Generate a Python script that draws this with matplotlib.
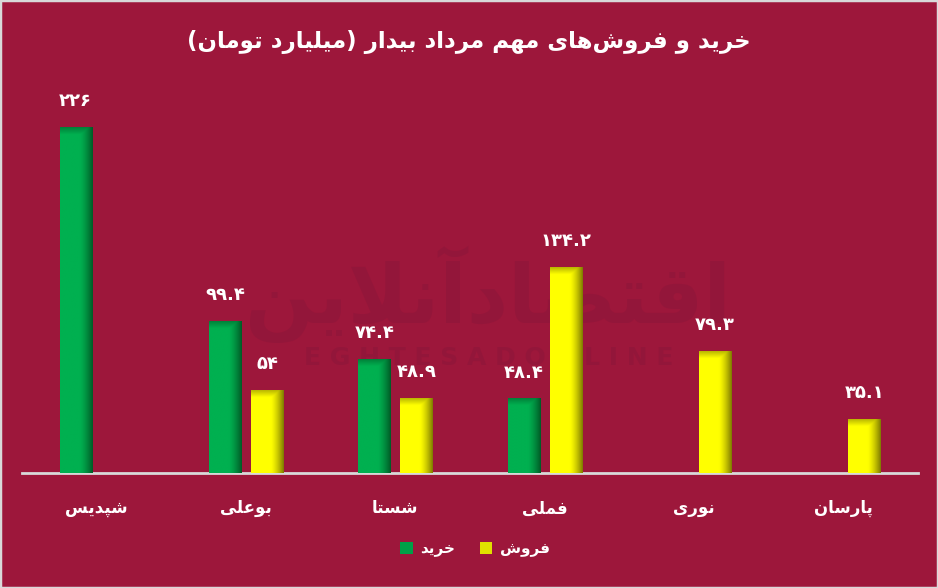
import numpy as np
import matplotlib
matplotlib.use("Agg")
import matplotlib.pyplot as plt
from matplotlib.patches import Patch
import matplotlib.colors as mcolors

# ---------------- data ----------------
categories = ["شپدیس", "بوعلی", "شستا", "فملی", "نوری", "پارسان"]
buy = [226, 99.4, 74.4, 48.4, None, None]          # خرید
sell = [None, 54, 48.9, 134.2, 79.3, 35.1]         # فروش
buy_labels = ["۲۲۶", "۹۹.۴", "۷۴.۴", "۴۸.۴", None, None]
sell_labels = [None, "۵۴", "۴۸.۹", "۱۳۴.۲", "۷۹.۳", "۳۵.۱"]
series_names = ["خرید", "فروش"]
title = "خرید و فروش\u200cهای مهم مرداد بیدار (میلیارد تومان)"
watermark_fa = "اقتصادآنلاین"
watermark_en = "E G H T E S A D O N L I N E"

# ---------------- minimal Persian shaping ----------------
F = {  # isolated, final, initial, medial
    'ا': ('\uFE8D', '\uFE8E', None, None),
    'آ': ('\uFE81', '\uFE82', None, None),
    'ب': ('\uFE8F', '\uFE90', '\uFE91', '\uFE92'),
    'پ': ('\uFB56', '\uFB57', '\uFB58', '\uFB59'),
    'ت': ('\uFE95', '\uFE96', '\uFE97', '\uFE98'),
    'خ': ('\uFEA5', '\uFEA6', '\uFEA7', '\uFEA8'),
    'د': ('\uFEA9', '\uFEAA', None, None),
    'ر': ('\uFEAD', '\uFEAE', None, None),
    'س': ('\uFEB1', '\uFEB2', '\uFEB3', '\uFEB4'),
    'ش': ('\uFEB5', '\uFEB6', '\uFEB7', '\uFEB8'),
    'ص': ('\uFEB9', '\uFEBA', '\uFEBB', '\uFEBC'),
    'ع': ('\uFEC9', '\uFECA', '\uFECB', '\uFECC'),
    'ف': ('\uFED1', '\uFED2', '\uFED3', '\uFED4'),
    'ق': ('\uFED5', '\uFED6', '\uFED7', '\uFED8'),
    'ل': ('\uFEDD', '\uFEDE', '\uFEDF', '\uFEE0'),
    'م': ('\uFEE1', '\uFEE2', '\uFEE3', '\uFEE4'),
    'ن': ('\uFEE5', '\uFEE6', '\uFEE7', '\uFEE8'),
    'ه': ('\uFEE9', '\uFEEA', '\uFEEB', '\uFEEC'),
    'و': ('\uFEED', '\uFEEE', None, None),
    'ی': ('\uFBFC', '\uFBFD', '\uFBFE', '\uFBFF'),
}
LAMALEF = {'ا': ('\uFEFB', '\uFEFC'), 'آ': ('\uFEF5', '\uFEF6')}


def shape(s):
    chars = list(s)
    n = len(chars)
    out = []
    i = 0
    while i < n:
        c = chars[i]
        prev = chars[i - 1] if i > 0 else None
        pj = prev in F and F[prev][2] is not None
        if c == 'ل' and i + 1 < n and chars[i + 1] in LAMALEF:
            iso, fin = LAMALEF[chars[i + 1]]
            out.append(fin if pj else iso)
            i += 2
            continue
        if c not in F:
            if c != '\u200c':
                out.append(c)
            i += 1
            continue
        nxt = chars[i + 1] if i + 1 < n else None
        nj = nxt in F and F[c][2] is not None
        iso, fin, ini, med = F[c]
        if pj and nj:
            out.append(med)
        elif pj:
            out.append(fin)
        elif nj:
            out.append(ini)
        else:
            out.append(iso)
        i += 1
    vis = ''.join(out)[::-1]
    vis = vis.translate(str.maketrans({'(': ')', ')': '('}))
    return vis


# ---------------- style ----------------
BG = '#9D173B'
WM = '#93163A'
GREEN = np.array(mcolors.to_rgb('#00B050'))
GREEN_D = np.array(mcolors.to_rgb('#005A26'))
YELLOW = np.array(mcolors.to_rgb('#FFFF00'))
YELLOW_D = np.array(mcolors.to_rgb('#7F7A00'))
plt.rcParams['font.family'] = ['DejaVu Sans']

fig = plt.figure(figsize=(9.38, 5.88), dpi=100, facecolor=BG)
ax = fig.add_axes([22 / 938, 1 - 473 / 588, 896 / 938, 383 / 588])
ax.set_facecolor('none')

x = np.arange(len(categories))
width = 0.215
off = 0.141
YMAX = 250.5
px_per_unit = 383 / YMAX


def gradient_bar(rect, base, dark):
    x0, w, h = rect.get_x(), rect.get_width(), rect.get_height()
    nx, ny = 80, 400
    xs = np.linspace(0, 1, nx)
    fx = np.clip((xs - 0.6) / 0.4, 0, 1) ** 1.4
    ys = np.linspace(h, 0, ny)
    top_units = 7 / px_per_unit
    fy = np.clip(1 - (h - ys) / top_units, 0, 1) * 0.55
    d = np.maximum(fx[None, :], fy[:, None])
    img = base * (1 - d[..., None]) + dark * d[..., None]
    ax.imshow(img, extent=[x0, x0 + w, 0, h], aspect='auto', origin='upper',
              zorder=3, interpolation='bilinear')


bv = [np.nan if v is None else v for v in buy]
sv = [np.nan if v is None else v for v in sell]
bars_b = ax.bar(x - off, bv, width, color=GREEN, zorder=2)
bars_s = ax.bar(x + off, sv, width, color=YELLOW, zorder=2)
for r, v in zip(bars_b, buy):
    if v is not None:
        gradient_bar(r, GREEN, GREEN_D)
for r, v in zip(bars_s, sell):
    if v is not None:
        gradient_bar(r, YELLOW, YELLOW_D)

for xs_, vals, labs in ((x - off, buy, buy_labels), (x + off, sell, sell_labels)):
    for xi, v, lab in zip(xs_, vals, labs):
        if v is not None:
            ax.annotate(lab, (xi, v), xytext=(0, 19), textcoords='offset points',
                        ha='center', va='center', color='white', fontsize=13,
                        fontweight='bold', zorder=5)

ax.set_xlim(-0.5, len(categories) - 0.5)
ax.set_ylim(0, YMAX)
ax.set_xticks(x)
ax.set_xticklabels([shape(c) for c in categories], color='white',
                   fontsize=12, fontweight='bold')
ax.tick_params(axis='x', length=0, pad=19)
ax.set_yticks([])
for s in ['top', 'left', 'right']:
    ax.spines[s].set_visible(False)
ax.spines['bottom'].set_color('#D9D9D9')
ax.spines['bottom'].set_linewidth(2)

# watermark (behind bars)
ax.text(0.52, 0.50, shape(watermark_fa), transform=fig.transFigure,
        ha='center', va='center', fontsize=58, fontweight='bold', color=WM,
        zorder=0.5, clip_on=False)
ax.text(0.521, 0.391, watermark_en, transform=fig.transFigure,
        ha='center', va='center', fontsize=18, fontweight='bold', color=WM,
        zorder=0.5, clip_on=False)

# title
fig.text(0.5, 1 - 42 / 588, shape(title), ha='center', va='center',
         color='white', fontsize=16.5, fontweight='bold')

# legend
handles = [Patch(facecolor='#00A048', edgecolor='none'),
           Patch(facecolor='#E0E000', edgecolor='none')]
leg = fig.legend(handles, [shape(n) for n in series_names], loc='center',
                 bbox_to_anchor=(475 / 938, 1 - 549 / 588), ncol=2,
                 frameon=False, handlelength=0.8, handleheight=0.8,
                 handletextpad=0.5, columnspacing=1.6,
                 prop={'weight': 'bold', 'size': 11})
for t in leg.get_texts():
    t.set_color('white')

# border
fig.patches.append(plt.Rectangle((0, 0), 1, 1, transform=fig.transFigure,
                                 fill=False, edgecolor='#D9D9D9', linewidth=2.5))

fig.savefig('out.png', dpi=100, facecolor=BG)
